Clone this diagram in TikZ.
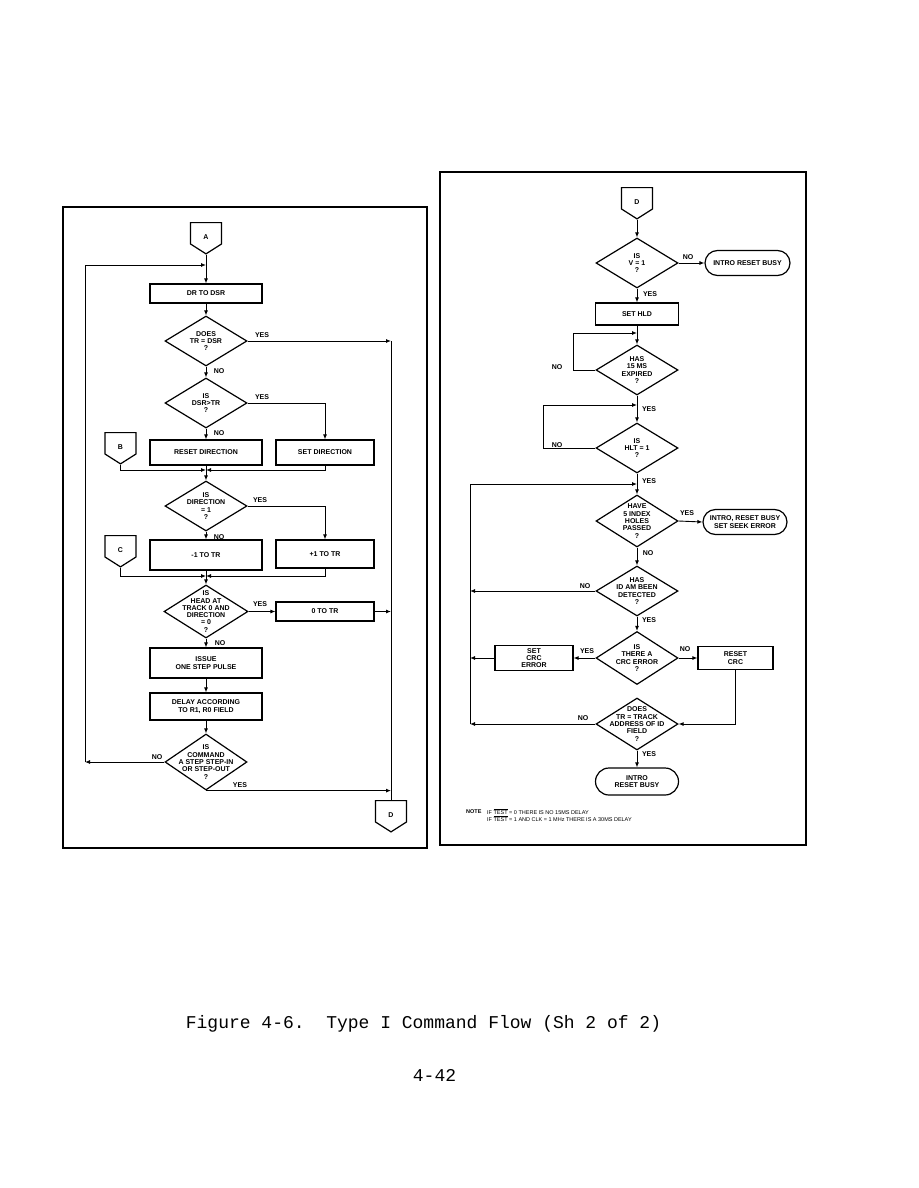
\documentclass[tikz,border=0pt]{standalone}
\usepackage{fontspec}
\setmainfont{Liberation Sans}
\newfontfamily\capfont{Liberation Mono}
\usetikzlibrary{shapes.geometric,shapes.symbols,shapes.misc,arrows.meta}
\begin{document}
\begin{tikzpicture}[x=1pt,y=-1pt,
  every node/.style={font=\fontsize{7}{7.3}\selectfont\bfseries},
  box/.style={draw, line width=1.2pt, rectangle, inner sep=0pt, align=center},
  dec/.style={draw, diamond, line width=1.2pt, inner sep=0pt, minimum width=82pt, minimum height=50pt},
  term/.style={draw, rounded rectangle, line width=1.2pt, inner sep=0pt, align=center},
  offp/.style={draw, signal, signal to=south, signal from=nowhere, signal pointer angle=115, line width=1.2pt, minimum width=31pt, minimum height=23pt, inner sep=0pt, text height=12pt, text depth=0pt, anchor=north},
  ln/.style={line width=0.9pt},
  arr/.style={ln, -{Latex[length=5pt,width=4pt]}},
  lab/.style={inner sep=0pt},
  frame/.style={line width=1.4pt},
  notefont/.style={font=\fontsize{5.5}{7}\selectfont, inner sep=0pt, anchor=west}
]
\useasboundingbox (0,0) rectangle (918,1188);
\fill[white] (0,0) rectangle (918,1188);

% ---------------- left sheet ----------------
\draw[frame] (63,207) rectangle (427,848);

\node[offp] (A) at (206,222) {A};
\node[box, minimum width=112pt, minimum height=19pt] (b1) at (206,293.5) {DR TO DSR};
\node[dec, label={[align=center]center:DOES\\TR = DSR\\?}] (d1) at (206,341) {};
\node[dec, label={[align=center]center:IS\\DSR>TR\\?}] (d2) at (206,403) {};
\node[box, minimum width=112pt, minimum height=25pt] (b2) at (206,452.5) {RESET DIRECTION};
\node[box, minimum width=98pt, minimum height=25pt] (b3) at (325,452.5) {SET DIRECTION};
\node[offp] (B) at (120.5,432) {B};
\node[dec, label={[align=center]center:IS\\DIRECTION\\= 1\\?}] (d3) at (206,506) {};
\node[box, minimum width=112pt, minimum height=30pt] (b4) at (206,555) {-1 TO TR};
\node[box, minimum width=98pt, minimum height=28pt] (b5) at (325,554) {+1 TO TR};
\node[offp] (C) at (120.5,535) {C};
\node[dec, minimum width=84pt, minimum height=53pt, label={[align=center]center:IS\\HEAD AT\\TRACK 0 AND\\DIRECTION\\= 0\\?}] (d4) at (206,611.5) {};
\node[box, minimum width=98pt, minimum height=19pt] (b6) at (325,611.5) {0 TO TR};
\node[box, minimum width=112pt, minimum height=30pt] (b7) at (206,663) {ISSUE\\ONE STEP PULSE};
\node[box, minimum width=112pt, minimum height=27pt] (b8) at (206,706.5) {DELAY ACCORDING\\TO R1, R0 FIELD};
\node[dec, minimum height=56pt, label={[align=center]center:IS\\COMMAND\\A STEP STEP-IN\\OR STEP-OUT\\?}] (d5) at (206,762) {};
\node[offp] (D) at (391,800) {D};

\coordinate (j0) at (206,265);
\coordinate (k1) at (391,341);
\coordinate (m1) at (206,470);
\coordinate (m2) at (206,576);
\coordinate (L1) at (85,762);

\draw[arr] (A.south) -- (b1.north);
\draw[arr] (b1.south) -- (d1.north);
\draw[arr] (d1.east) -- (k1);
\draw[arr] (d1.south) -- (d2.north);
\draw[arr] (d2.south) -- (b2.north);
\draw[arr] (d2.east) -| (b3.north);
\draw[arr] (B.south) |- (m1);
\draw[arr] (b3.south) |- (m1);
\draw[ln] (b2.south) -- (m1);
\draw[arr] (m1) -- (d3.north);
\draw[arr] (d3.south) -- (b4.north);
\draw[arr] (d3.east) -| (b5.north);
\draw[arr] (C.south) |- (m2);
\draw[arr] (b5.south) |- (m2);
\draw[ln] (b4.south) -- (m2);
\draw[arr] (m2) -- (d4.north);
\draw[arr] (d4.east) -- (b6.west);
\draw[arr] (b6.east) -- (b6.east -| k1);
\draw[arr] (d4.south) -- (b7.north);
\draw[arr] (b7.south) -- (b8.north);
\draw[arr] (b8.south) -- (d5.north);
\draw[arr] (d5.west) -- (L1);
\draw[arr] (L1) |- (j0);
\draw[arr] (d5.south) -- (d5.south -| k1);
\draw[ln] (k1) -- (D.north);

\node[lab] (ly1) at (262,335) {YES};
\node[lab] (ln1) at (219,371) {NO};
\node[lab] (ly2) at (262,397) {YES};
\node[lab] (ln2) at (219,433) {NO};
\node[lab] (ly3) at (260,500) {YES};
\node[lab] (ln3) at (219,537) {NO};
\node[lab] (ly4) at (260,604) {YES};
\node[lab] (ln4) at (220,643) {NO};
\node[lab] (ln5) at (157,757) {NO};
\node[lab] (ly5) at (240,785) {YES};

% ---------------- right sheet ----------------
\draw[frame] (440,172) rectangle (806,845);

\node[offp] (D2) at (637,187) {D};
\node[dec, label={[align=center]center:IS\\V = 1\\?}] (r1) at (637,263) {};
\node[term, minimum width=85pt, minimum height=25pt] (t1) at (747.5,263) {INTRO RESET BUSY};
\node[box, minimum width=83pt, minimum height=22pt] (b9) at (637,314) {SET HLD};
\node[dec, label={[align=center]center:HAS\\15 MS\\EXPIRED\\?}] (r2) at (637,370) {};
\node[dec, label={[align=center]center:IS\\HLT = 1\\?}] (r3) at (637,448) {};
\node[dec, minimum height=52pt, label={[align=center]center:HAVE\\5 INDEX\\HOLES\\PASSED\\?}] (r4) at (637,521) {};
\node[term, minimum width=84pt, minimum height=25pt] (t2) at (745,522) {INTRO, RESET BUSY\\SET SEEK ERROR};
\node[dec, label={[align=center]center:HAS\\ID AM BEEN\\DETECTED\\?}] (r5) at (637,591) {};
\node[dec, minimum height=53pt, label={[align=center]center:IS\\THERE A\\CRC ERROR\\?}] (r6) at (637,658) {};
\node[box, minimum width=78pt, minimum height=25pt] (b10) at (534,658) {SET\\CRC\\ERROR};
\node[box, minimum width=75pt, minimum height=23pt] (b11) at (735.5,658) {RESET\\CRC};
\node[dec, minimum height=52pt, label={[align=center]center:DOES\\TR = TRACK\\ADDRESS OF ID\\FIELD\\?}] (r7) at (637,724) {};
\node[term, minimum width=83pt, minimum height=27pt] (t3) at (637,781.5) {INTRO\\RESET BUSY};

\coordinate (j1) at (637,333);
\coordinate (n1) at (573,370);
\coordinate (j2) at (637,405);
\coordinate (n2) at (543,448);
\coordinate (j3) at (637,484);
\coordinate (L2) at (470,724);

\draw[arr] (D2.south) -- (r1.north);
\draw[arr] (r1.east) -- (t1.west);
\draw[arr] (r1.south) -- (b9.north);
\draw[arr] (b9.south) -- (r2.north);
\draw[ln] (r2.west) -- (n1);
\draw[arr] (n1) |- (j1);
\draw[arr] (r2.south) -- (r3.north);
\draw[ln] (r3.west) -- (n2);
\draw[arr] (n2) |- (j2);
\draw[arr] (r3.south) -- (r4.north);
\draw[arr] (r4.east) -- (t2.west);
\draw[arr] (r4.south) -- (r5.north);
\draw[arr] (r5.west) -- (r5.west -| L2);
\draw[arr] (r5.south) -- (r6.north);
\draw[arr] (r6.west) -- (b10.east);
\draw[arr] (b10.west) -- (b10.west -| L2);
\draw[arr] (r6.east) -- (b11.west);
\draw[arr] (b11.south) |- (r7.east);
\draw[arr] (r7.west) -- (L2);
\draw[arr] (L2) |- (j3);
\draw[arr] (r7.south) -- (t3.north);

\node[lab] (rn1) at (688,257) {NO};
\node[lab] (ry1) at (650,294) {YES};
\node[lab] (rn2) at (557,367) {NO};
\node[lab] (ry2) at (649,409) {YES};
\node[lab] (rn3) at (557,445) {NO};
\node[lab] (ry3) at (649,481) {YES};
\node[lab] (ry4) at (687,513) {YES};
\node[lab] (rn4) at (648,553) {NO};
\node[lab] (rn5) at (585,586) {NO};
\node[lab] (ry5) at (649,620) {YES};
\node[lab] (ry6) at (587,651) {YES};
\node[lab] (rn6) at (685,649) {NO};
\node[lab] (rn7) at (583,718) {NO};
\node[lab] (ry7) at (649,754) {YES};

\node[notefont, font=\fontsize{5.5}{7}\selectfont\bfseries] (note) at (466,812) {NOTE};
\node[notefont] (note1) at (487,812) {IF $\overline{\mbox{TEST}}$ = 0 THERE IS NO 15MS DELAY};
\node[notefont] (note2) at (487,819) {IF $\overline{\mbox{TEST}}$ = 1 AND CLK = 1 MHz THERE IS A 30MS DELAY};

% ---------------- caption ----------------
\node[font=\capfont\fontsize{18}{20}\selectfont] (cap) at (423.5,1024) {Figure 4-6.\ \ Type I Command Flow (Sh 2 of 2)};
\node[font=\capfont\fontsize{18}{20}\selectfont] (page) at (434.5,1075) {4-42};
\end{tikzpicture}
\end{document}
